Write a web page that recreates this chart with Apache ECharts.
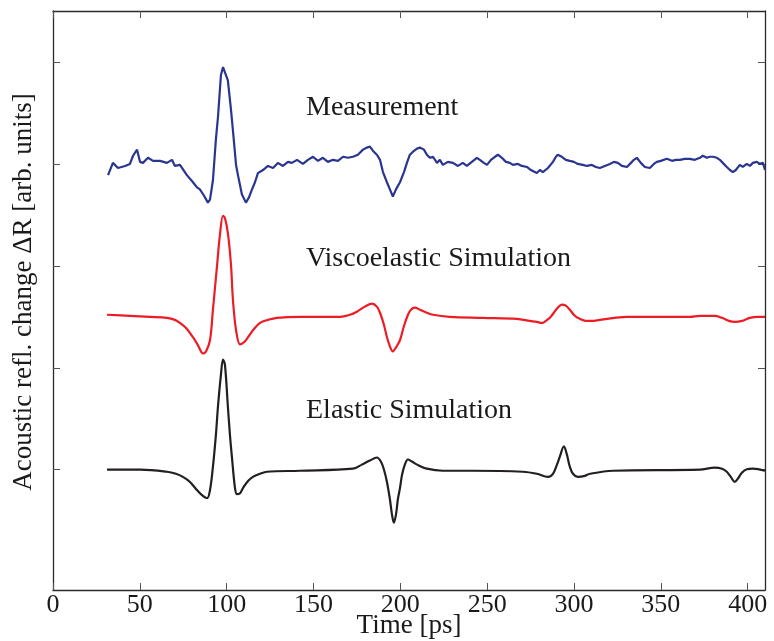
<!DOCTYPE html>
<html>
<head>
<meta charset="utf-8">
<script src="https://cdn.jsdelivr.net/npm/echarts@6/dist/echarts.min.js"></script>
<style>html,body{margin:0;padding:0;background:#fff}#c{width:774px;height:641px}</style>
</head>
<body>
<div id="c"></div>
<script>
// Time [ps] and signal values (arbitrary units, offset per trace)
var measTime = [31.7,34.5,37.4,41.5,44.3,46.1,48.4,50.1,51.8,54.7,57.6,61.6,65.6,68.5,70.2,73.1,77.1,80.6,82.9,84.6,86.9,89.2,90.4,92.1,93.8,95.0,96.7,97.9,99.0,100.7,102.5,103.6,105.4,106.5,108.8,111.1,112.8,114.6,116.3,118.0,120.9,123.8,126.7,129.5,132.4,135.3,137.6,140.5,143.9,146.8,149.7,152.6,155.4,158.3,161.2,164.1,167.0,169.8,172.7,175.6,178.5,180.8,182.5,184.2,186.5,188.3,190.0,192.3,194.0,195.7,197.5,199.8,202.1,203.8,205.5,207.3,209.6,211.3,213.6,215.3,217.0,218.8,221.1,222.8,224.5,227.4,230.3,233.2,236.0,238.3,241.2,244.1,245.8,248.1,249.9,252.2,254.5,256.2,258.5,260.8,263.1,264.8,267.7,270.0,272.9,275.2,278.6,280.4,282.1,285.0,287.9,289.6,290.7,293.0,295.3,297.6,300.0,302.2,305.1,307.4,310.3,312.6,314.9,317.8,320.7,323.0,325.3,327.6,330.5,332.8,334.5,336.2,338.5,340.8,343.7,346.0,347.7,350.0,353.5,356.4,358.7,361.0,363.8,366.7,369.6,372.5,374.2,376.5,378.2,380.0,382.3,384.0,385.7,388.0,389.8,391.5,393.2,395.5,397.2,399.5,401.3,403.0,405.3,407.0,408.8,410.0];
var measValue = [2.89,3.01,2.96,2.98,3.0,3.08,3.14,3.02,3.01,3.06,3.03,3.03,3.01,3.04,2.98,2.99,2.89,2.82,2.77,2.75,2.69,2.62,2.65,2.84,3.24,3.46,3.87,3.95,3.94,3.82,3.53,3.33,2.99,2.89,2.70,2.62,2.67,2.75,2.82,2.91,2.94,2.98,2.96,3.01,2.98,3.02,3.01,3.04,3.00,3.04,3.07,3.03,3.06,3.02,3.04,3.03,3.07,3.06,3.07,3.09,3.14,3.16,3.17,3.13,3.09,3.04,2.92,2.82,2.75,2.68,2.75,2.82,2.92,3.01,3.09,3.12,3.15,3.16,3.14,3.09,3.06,3.07,3.01,3.04,2.99,3.02,3.01,2.98,3.01,2.98,3.02,3.06,3.04,3.01,2.99,3.04,3.07,3.09,3.06,3.02,3.01,2.99,3.00,2.98,2.97,2.94,2.91,2.94,2.92,2.96,3.02,3.07,3.09,3.07,3.04,3.03,3.02,3.00,2.99,2.98,2.99,2.97,2.96,2.98,3.00,3.02,3.01,2.98,2.97,3.01,3.04,3.06,3.01,2.97,2.96,3.00,3.02,3.03,3.05,3.03,3.04,3.04,3.05,3.05,3.04,3.06,3.08,3.06,3.07,3.07,3.06,3.04,3.01,2.97,2.94,2.92,2.94,2.99,2.97,3.00,2.98,3.01,3.02,3.00,3.01,2.94];

var viscoTime = [31.1,44.3,55.8,65.6,70.2,73.1,76.6,80.6,83.5,86.4,88.1,90.4,92.1,94.4,96.1,97.9,99.0,100.7,102.5,103.6,105.4,107.7,110.0,112.3,115.7,119.2,123.8,128.9,142.2,165.2,171.0,175.0,179.6,183.7,186.5,188.3,190.6,192.3,194.0,195.7,197.5,199.8,202.1,204.4,206.1,208.4,211.3,215.3,218.8,228.5,247.6,267.1,274.6,278.6,281.5,283.8,286.1,288.4,290.7,293.0,295.3,297.6,300.5,303.3,306.8,310.3,314.9,330.5,366.7,372.5,381.1,385.2,389.2,392.6,396.7,401.3,405.9,410.0];
var viscoValue = [1.52,1.51,1.50,1.49,1.47,1.44,1.39,1.30,1.22,1.14,1.16,1.27,1.57,1.99,2.30,2.49,2.47,2.32,2.01,1.67,1.37,1.23,1.25,1.30,1.38,1.44,1.47,1.49,1.50,1.50,1.52,1.55,1.60,1.63,1.60,1.54,1.42,1.30,1.21,1.16,1.20,1.27,1.41,1.52,1.57,1.59,1.57,1.54,1.52,1.50,1.49,1.48,1.46,1.45,1.44,1.46,1.49,1.54,1.59,1.62,1.61,1.57,1.51,1.48,1.46,1.46,1.47,1.50,1.50,1.51,1.51,1.49,1.46,1.45,1.46,1.49,1.50,1.50];

var elasticTime = [31.1,50.1,65.6,70.8,74.8,78.9,82.9,85.8,88.7,90.4,92.1,93.8,95.0,96.7,97.9,99.0,100.7,101.9,103.0,104.8,105.9,107.7,109.4,112.3,115.1,119.2,123.2,142.2,172.7,177.9,182.5,186.5,188.8,190.6,192.3,194.0,195.2,196.3,197.5,198.6,199.8,201.0,202.6,204.4,206.7,209.6,215.3,224.5,241.8,270.6,278.6,285.0,287.9,290.2,291.9,294.2,295.9,297.6,299.4,302.2,306.3,309.2,322.4,372.5,381.1,385.2,388.0,390.3,392.6,394.3,396.7,399.5,403.0,410.0];
var elasticValue = [0,0,-0.02,-0.04,-0.07,-0.12,-0.20,-0.25,-0.28,-0.20,0.03,0.34,0.62,0.93,1.08,1.03,0.62,0.34,0.13,-0.18,-0.24,-0.23,-0.18,-0.11,-0.07,-0.04,-0.02,-0.01,0.01,0.05,0.09,0.12,0.08,0,-0.12,-0.29,-0.44,-0.52,-0.44,-0.29,-0.18,-0.05,0.05,0.10,0.08,0.05,0.01,-0.01,-0.01,-0.02,-0.04,-0.07,-0.04,0.05,0.13,0.23,0.15,0.03,-0.04,-0.07,-0.06,-0.04,-0.01,0,0.02,0.01,-0.02,-0.07,-0.12,-0.09,-0.03,0.005,0.01,-0.01];

var xTicks = [0,50,100,150,200,250,300,350,400];
var yTicks = [0,1,2,3,4];

function pairs(t, v){ return t.map(function(x,i){ return [x, v[i]]; }); }

var serif = '"Liberation Serif", "DejaVu Serif", serif';
var chart = echarts.init(document.getElementById('c'), null, {renderer:'canvas'});
var axLine = {show:true, onZero:false, lineStyle:{color:'#2b2b2b', width:1.3}};
var tickStyle = {color:'#555', width:1};
chart.setOption({
  animation:false,
  backgroundColor:'#fff',
  grid:{left:53, right:9, top:11, bottom:51, containLabel:false, outerBoundsMode:'none'},
  xAxis:[
    {type:'value', min:0, max:410, interval:50, position:'bottom',
     axisLine:axLine, splitLine:{show:false},
     axisTick:{inside:true, length:7, lineStyle:tickStyle, customValues:xTicks},
     axisLabel:{color:'#1a1a1a', fontFamily:serif, fontSize:26, margin:2, customValues:xTicks},
     name:'Time [ps]', nameLocation:'middle', nameGap:22, nameMoveOverlap:false,
     nameTextStyle:{color:'#1a1a1a', fontFamily:serif, fontSize:27, verticalAlign:'top', padding:0}},
    {type:'value', min:0, max:410, interval:50, position:'top',
     axisLine:axLine, splitLine:{show:false},
     axisTick:{inside:true, length:7, lineStyle:tickStyle, customValues:xTicks},
     axisLabel:{show:false}}
  ],
  yAxis:[
    {type:'value', min:-1.18, max:4.5, position:'left',
     axisLine:axLine, splitLine:{show:false},
     axisTick:{inside:true, length:7, lineStyle:tickStyle, customValues:yTicks},
     axisLabel:{show:false}},
    {type:'value', min:-1.18, max:4.5, position:'right',
     axisLine:axLine, splitLine:{show:false},
     axisTick:{inside:true, length:7, lineStyle:tickStyle, customValues:yTicks},
     axisLabel:{show:false}}
  ],
  series:[
    {name:'Measurement', type:'line', data:pairs(measTime, measValue), showSymbol:false,
     lineStyle:{color:'#2a3590', width:2.2}, smooth:false, z:3},
    {name:'Viscoelastic Simulation', type:'line', data:pairs(viscoTime, viscoValue), showSymbol:false,
     lineStyle:{color:'#ed1c24', width:2.2}, smooth:0.35, z:3},
    {name:'Elastic Simulation', type:'line', data:pairs(elasticTime, elasticValue), showSymbol:false,
     lineStyle:{color:'#231f20', width:2.2}, smooth:0.35, z:3}
  ],
  graphic:[
    {type:'text', x:306, y:108, style:{text:'Measurement', font:'28px '+serif, fill:'#1a1a1a', verticalAlign:'middle'}},
    {type:'text', x:306, y:259, style:{text:'Viscoelastic Simulation', font:'28px '+serif, fill:'#1a1a1a', verticalAlign:'middle'}},
    {type:'text', x:306, y:411, style:{text:'Elastic Simulation', font:'28px '+serif, fill:'#1a1a1a', verticalAlign:'middle'}},
    {type:'text', x:24, y:292, rotation:Math.PI/2,
     style:{text:'Acoustic refl. change \u0394R [arb. units]', font:'27px '+serif, fill:'#1a1a1a', align:'center', verticalAlign:'middle'}}
  ]
});
</script>
</body>
</html>
